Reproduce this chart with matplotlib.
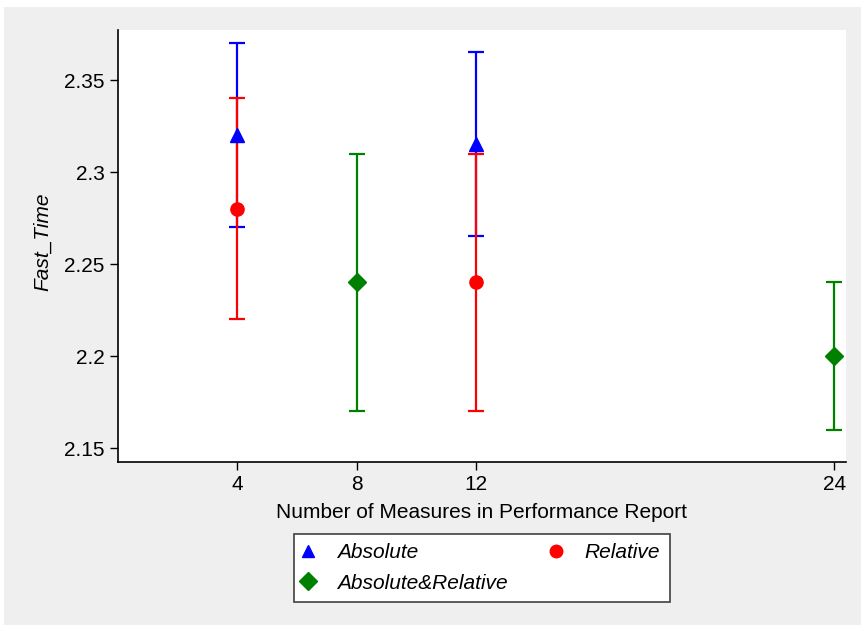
import matplotlib.pyplot as plt
from matplotlib.lines import Line2D
from matplotlib.patches import Rectangle

plt.rcParams['font.family'] = ['Liberation Sans', 'DejaVu Sans']

# data
abs_x = [4, 12]
abs_y = [2.32, 2.315]
abs_lo = [2.27, 2.265]
abs_hi = [2.37, 2.365]

rel_x = [4, 12]
rel_y = [2.28, 2.24]
rel_lo = [2.22, 2.17]
rel_hi = [2.34, 2.31]

both_x = [8, 24]
both_y = [2.24, 2.20]
both_lo = [2.17, 2.16]
both_hi = [2.31, 2.24]

xticks = [4, 8, 12, 24]
yticks = [2.15, 2.2, 2.25, 2.3, 2.35]
ylabels = ['2.15', '2.2', '2.25', '2.3', '2.35']

blue = '#0000ff'
red = '#ff0000'
green = '#008000'

fig = plt.figure(figsize=(8.61, 6.25), dpi=100, facecolor='white')
fig.patches.append(Rectangle((4 / 861, 0), 1, 618 / 625, transform=fig.transFigure,
                             facecolor='#efefef', edgecolor='none', zorder=-10))
ax = fig.add_axes([118 / 861, 163 / 625, 728 / 861, 432 / 625])
ax.set_facecolor('white')


def err(x, y, lo, hi, c):
    ax.errorbar(x, y, yerr=[[a - b for a, b in zip(y, lo)], [b - a for a, b in zip(y, hi)]],
                fmt='none', ecolor=c, elinewidth=1.6, capsize=6, capthick=1.6)


err(abs_x, abs_y, abs_lo, abs_hi, blue)
err(rel_x, rel_y, rel_lo, rel_hi, red)
err(both_x, both_y, both_lo, both_hi, green)
ax.plot(abs_x, abs_y, linestyle='none', marker='^', color=blue, markersize=10, zorder=5)
ax.plot(rel_x, rel_y, linestyle='none', marker='o', color=red, markersize=9.5, zorder=5)
ax.plot(both_x, both_y, linestyle='none', marker='D', color=green, markersize=9, zorder=5)

ax.set_xlim(0, 24.4)
ax.set_ylim(2.1424, 2.3772)
ax.set_xticks(xticks)
ax.set_xticklabels([str(v) for v in xticks])
ax.set_yticks(yticks)
ax.set_yticklabels(ylabels)
ax.tick_params(axis='both', direction='out', length=6, width=1, labelsize=15, colors='black')
ax.tick_params(axis='x', pad=3)
for s in ['top', 'right']:
    ax.spines[s].set_visible(False)
for s in ['left', 'bottom']:
    ax.spines[s].set_linewidth(1.2)

ax.set_xlabel('Number of Measures in Performance Report', fontsize=15, labelpad=7)
ax.set_ylabel('Fast_Time', fontsize=15, fontstyle='italic')
ax.yaxis.set_label_coords(-0.091, 0.51)

handles = [
    Line2D([], [], linestyle='none', marker='^', color=blue, markersize=9),
    Line2D([], [], linestyle='none', marker='D', color=green, markersize=9),
    Line2D([], [], linestyle='none', marker='o', color=red, markersize=9),
]
labels = ['Absolute', 'Absolute&Relative', 'Relative']
leg = fig.legend(handles, labels, ncol=2, loc='center', bbox_to_anchor=(482 / 861, 57 / 625),
                 frameon=True, fancybox=False, edgecolor='#404040', facecolor='white',
                 framealpha=1, prop={'size': 15, 'style': 'italic'}, handlelength=0.4,
                 handletextpad=1.2, columnspacing=2.1, borderpad=0.45, labelspacing=0.55,
                 borderaxespad=0)
leg.get_frame().set_linewidth(1.2)

fig.savefig('out.png', dpi=100, facecolor=fig.get_facecolor())
